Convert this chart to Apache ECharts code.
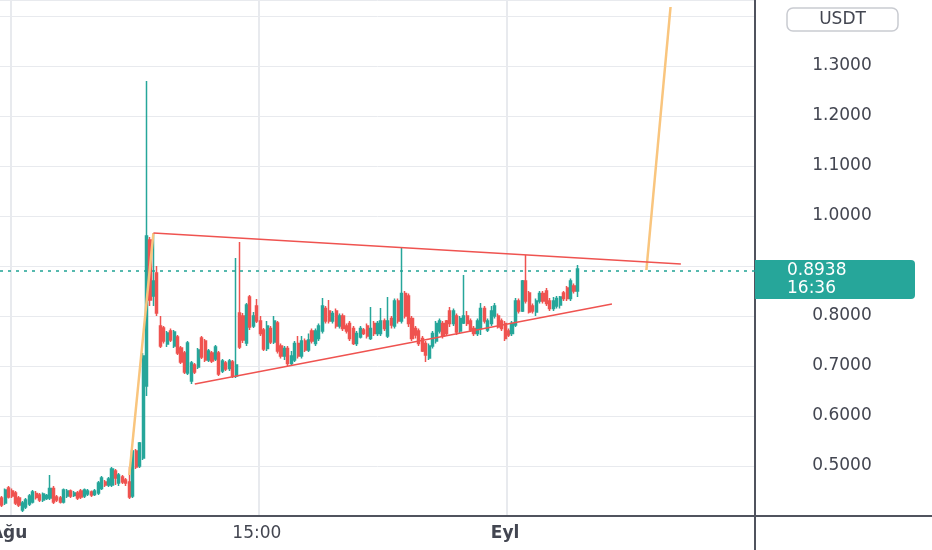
<!DOCTYPE html>
<html><head><meta charset="utf-8">
<script src="https://cdn.jsdelivr.net/npm/echarts@6/dist/echarts.min.js"></script>
<style>html,body{margin:0;padding:0;background:#fff}#c{width:932px;height:550px}</style>
</head><body><div id="c"></div>
<script>
// ---- data ----
const opens = [
.436,.426,.456,.450,.446,.436,.412,.418,.424,.428,
.445,.442,.432,.435,.436,.455,.438,.436,.428,.440,
.450,.441,.446,.450,.440,.444,.448,.443,.446,.455,
.468,.462,.462,.490,.466,.478,.472,.468,.440,.530,
.500,.516,.660,.952,.840,.886,.780,.776,.744,.770,
.740,.758,.736,.726,.686,.670,.702,.698,.756,.750,
.712,.726,.714,.726,.690,.706,.695,.708,.680,.806,
.800,.746,.838,.780,.820,.790,.772,.735,.775,.748,
.786,.740,.720,.735,.705,.712,.745,.720,.750,.732,
.770,.745,.755,.770,.815,.810,.790,.810,.780,.800,
.780,.785,.775,.745,.758,.772,.780,.755,.785,.765,
.765,.790,.760,.795,.780,.830,.790,.845,.840,.795,
.775,.770,.755,.745,.716,.740,.750,.770,.785,.790,
.810,.785,.800,.770,.786,.800,.790,.775,.765,.775,
.815,.772,.785,.800,.800,.790,.785,.770,.765,.782,
.830,.810,.870,.846,.820,.808,.830,.845,.850,.830,
.815,.820,.822,.846,.856,.835,.860,.850];
const closes = [
.422,.452,.438,.440,.426,.422,.426,.432,.440,.448,
.437,.432,.444,.441,.455,.428,.432,.428,.452,.450,
.440,.446,.436,.438,.452,.450,.442,.450,.466,.476,
.462,.474,.494,.476,.482,.468,.466,.438,.530,.498,
.546,.720,.960,.832,.870,.806,.740,.750,.766,.752,
.768,.726,.708,.688,.746,.706,.688,.732,.718,.712,
.730,.710,.738,.684,.710,.694,.710,.680,.702,.738,
.752,.822,.778,.800,.790,.765,.734,.780,.748,.790,
.730,.720,.735,.705,.720,.745,.720,.750,.732,.752,
.750,.770,.780,.820,.790,.790,.805,.780,.800,.775,
.770,.755,.745,.765,.775,.765,.760,.775,.765,.785,
.790,.775,.790,.782,.830,.790,.845,.800,.785,.755,
.762,.745,.730,.722,.740,.765,.785,.790,.760,.765,
.785,.810,.768,.795,.800,.785,.772,.765,.790,.815,
.790,.790,.810,.820,.778,.775,.755,.762,.785,.830,
.810,.870,.830,.808,.810,.830,.845,.830,.825,.815,
.830,.835,.838,.835,.835,.870,.850,.8938];
const lows = [
.418,.422,.435,.436,.422,.418,.408,.414,.420,.425,
.433,.428,.428,.432,.432,.424,.428,.425,.425,.436,
.436,.438,.432,.434,.436,.440,.438,.440,.442,.452,
.458,.458,.458,.462,.460,.464,.460,.434,.436,.494,
.496,.512,.640,.820,.820,.800,.736,.745,.738,.748,
.736,.722,.704,.684,.682,.664,.684,.694,.714,.708,
.708,.706,.710,.680,.686,.690,.690,.676,.676,.734,
.746,.740,.772,.776,.786,.760,.730,.730,.744,.744,
.725,.715,.712,.700,.700,.708,.715,.715,.728,.728,
.745,.740,.750,.765,.785,.785,.785,.775,.775,.770,
.765,.750,.742,.740,.755,.762,.755,.752,.760,.760,
.760,.770,.756,.775,.775,.785,.785,.795,.778,.750,
.755,.740,.728,.708,.712,.735,.745,.765,.755,.760,
.778,.780,.762,.765,.784,.780,.768,.760,.760,.762,
.785,.768,.780,.795,.775,.770,.750,.758,.760,.778,
.805,.808,.825,.805,.805,.800,.825,.825,.820,.810,
.810,.815,.815,.830,.830,.830,.845,.838];
const highs = [
.440,.455,.460,.455,.450,.440,.430,.436,.444,.452,
.450,.446,.447,.444,.482,.460,.442,.440,.455,.454,
.453,.450,.450,.454,.455,.454,.451,.454,.470,.480,
.472,.478,.498,.494,.486,.482,.476,.498,.532,.534,
.548,.726,1.270,.958,.966,.900,.800,.780,.770,.775,
.772,.762,.740,.730,.750,.710,.706,.736,.760,.754,
.734,.730,.742,.730,.714,.710,.714,.712,.916,.948,
.806,.826,.842,.808,.834,.800,.776,.790,.780,.800,
.790,.745,.740,.740,.730,.750,.760,.760,.755,.765,
.775,.775,.785,.836,.820,.832,.810,.815,.805,.805,
.785,.790,.780,.770,.780,.776,.785,.818,.790,.790,
.816,.795,.838,.800,.835,.835,.938,.850,.845,.800,
.780,.775,.760,.750,.745,.770,.790,.795,.790,.792,
.818,.815,.805,.800,.882,.810,.795,.780,.795,.826,
.820,.795,.820,.826,.805,.795,.790,.775,.790,.836,
.835,.872,.922,.850,.825,.835,.850,.850,.856,.836,
.838,.840,.840,.850,.860,.875,.865,.902];

// time slots (7.5-minute bars starting 05:45), including empty future slots
const slotCount = 219;
const categories = [];
for (let i = 0; i < slotCount; i++) {
  const m = 345 + i * 7.5;
  const h = Math.floor(m / 60) % 24, mm = Math.floor(m % 60);
  categories.push(String(h).padStart(2, '0') + ':' + String(mm).padStart(2, '0'));
}
const tickIndex = [2, 74, 146];
const tickLabels = ['Ağu', '15:00', 'Eyl'];
const tickBold = [true, false, true];
const gridIndex = [3, 75, 147];

const lastPrice = 0.8938;
const countdown = '16:36';
const currency = 'USDT';

// drawn trend lines: [slot index, price]
const upperTrend = [[44, 0.966], [197, 0.904]];
const lowerTrend = [[56, 0.664], [177, 0.824]];
const orangeRise = [[37, 0.482], [44, 0.966]];
const orangeTarget = [[187, 0.892], [194, 1.418]];

// ---- chart ----
const FONT = 'DejaVu Sans';
const TXT = '#434651';
const AXIS = '#50535e';
const GRIDC = '#e8eaee';
const UP = '#26a69a', DOWN = '#ef5350';

const candleData = opens.map((o, i) => [o, closes[i], lows[i], highs[i]]);

const priceLineStyle = { color: '#1fa394', type: [3, 5], width: 1.5, opacity: 1 };

const chart = echarts.init(document.getElementById('c'));
chart.setOption({
  animation: false,
  backgroundColor: '#ffffff',
  grid: { left: 0, right: 177, top: 0, bottom: 34, containLabel: false, outerBoundsMode: 'none' },
  xAxis: {
    type: 'category', data: categories, boundaryGap: true,
    axisLine: { show: true, lineStyle: { color: AXIS, width: 2 } },
    axisTick: { show: false },
    axisLabel: {
      interval: (i) => tickIndex.includes(i),
      formatter: (v, i) => {
        const k = tickIndex.indexOf(i);
        if (k < 0) return '';
        return tickBold[k] ? '{b|' + tickLabels[k] + '}' : tickLabels[k];
      },
      color: TXT, fontFamily: FONT, fontSize: 17, margin: 9,
      rich: { b: { fontWeight: 'bold', fontFamily: FONT, fontSize: 17, color: TXT } }
    },
    splitLine: { show: true, interval: (i) => gridIndex.includes(i), lineStyle: { color: GRIDC, width: 2 } }
  },
  yAxis: {
    type: 'value', position: 'right', min: 0.4, max: 1.432, interval: 0.1, scale: false,
    axisLine: { show: true, lineStyle: { color: AXIS, width: 2 } },
    axisTick: { show: false },
    axisLabel: {
      margin: 87, align: 'center', color: TXT, fontFamily: FONT, fontSize: 17,
      // labels under the last-price tag and under the currency badge are hidden
      formatter: (v) => (v < 0.45 || v > 1.35 || Math.abs(v - 0.9) < 0.01) ? '' : v.toFixed(4)
    },
    splitLine: { show: true, lineStyle: { color: GRIDC, width: 1 } }
  },
  series: [
    {
      type: 'candlestick', data: candleData, barWidth: 2.6, z: 2,
      itemStyle: { color: UP, color0: DOWN, borderColor: UP, borderColor0: DOWN, borderWidth: 1.5 },
      markLine: {
        silent: true, symbol: ['none', 'none'], animation: false,
        lineStyle: priceLineStyle,
        data: [{ yAxis: lastPrice, lineStyle: priceLineStyle }],
        label: {
          show: true, position: 'end', distance: 0, offset: [0, 8.5],
          formatter: lastPrice.toFixed(4) + '\n' + countdown,
          color: '#ffffff', fontFamily: FONT, fontSize: 17, lineHeight: 18,
          backgroundColor: UP, padding: [3, 0, 0, 32], width: 128, align: 'left',
          borderRadius: [0, 4, 4, 0]
        }
      }
    },
    { type: 'line', data: upperTrend, symbol: 'none', z: 4, silent: true, lineStyle: { color: DOWN, width: 1.5 } },
    { type: 'line', data: lowerTrend, symbol: 'none', z: 4, silent: true, lineStyle: { color: DOWN, width: 1.5 } },
    { type: 'line', data: orangeRise, symbol: 'none', z: 3, silent: true, lineStyle: { color: '#f9c57e', width: 2.5 } },
    { type: 'line', data: orangeTarget, symbol: 'none', z: 3, silent: true, lineStyle: { color: '#f9c57e', width: 2.5 } }
  ],
  graphic: [
    { type: 'line', silent: true, shape: { x1: 755, y1: 516, x2: 932, y2: 516 }, style: { stroke: AXIS, lineWidth: 2 } },
    { type: 'line', silent: true, shape: { x1: 755, y1: 516, x2: 755, y2: 550 }, style: { stroke: AXIS, lineWidth: 2 } },
    { type: 'rect', silent: true, shape: { x: 787, y: 8, width: 111, height: 23, r: 6 }, style: { fill: '#ffffff', stroke: '#c9cbd1', lineWidth: 1.5 } },
    { type: 'text', silent: true, x: 842.5, y: 19.5, style: { text: currency, fill: TXT, fontSize: 17, fontFamily: FONT, align: 'center', verticalAlign: 'middle' } }
  ]
});
</script>
</body></html>
